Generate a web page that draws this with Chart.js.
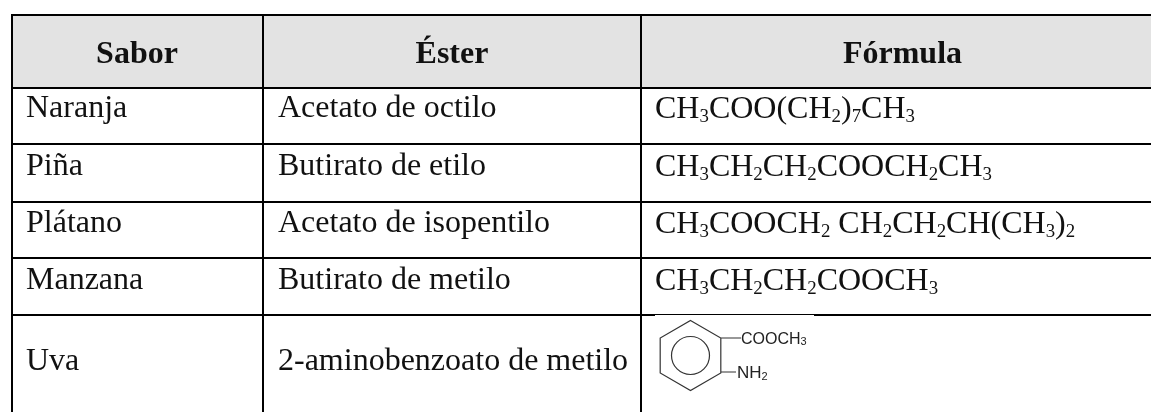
<!DOCTYPE html>
<html><head><meta charset="utf-8">
<style>html,body{margin:0;padding:0;background:#fff}canvas{display:block}</style>
<script src="https://cdn.jsdelivr.net/npm/chart.js@4"></script></head>
<body><div style="width:1151px;height:412px"><canvas id="c" width="1151" height="412"></canvas></div>
<script>
const headers = ['Sabor','Éster','Fórmula'];
const sabores = ['Naranja','Piña','Plátano','Manzana','Uva'];
const esteres = ['Acetato de octilo','Butirato de etilo','Acetato de isopentilo','Butirato de metilo','2-aminobenzoato de metilo'];
const formulas = ['CH_3COO(CH_2)_7CH_3','CH_3CH_2CH_2COOCH_2CH_3','CH_3COOCH_2 CH_2CH_2CH(CH_3)_2','CH_3CH_2CH_2COOCH_3',''];
const FF = '"Liberation Serif","Times New Roman",serif';
const colX = [12,263,641,1151];
const rowY = [15,88,144,202,258,315,412];
const textY = [63,117,175,232,289,370];
const headerX = [137,452,902.5];
const SIZE = 32;

function sub(ctx,s,x,y,size){
  s.split(/(_\d)/).forEach(p=>{
    if(/^_\d$/.test(p)){ctx.font=`${size*0.59}px ${FF}`;ctx.fillText(p[1],x,y+4);x+=ctx.measureText(p[1]).width;}
    else if(p){ctx.font=`${size}px ${FF}`;ctx.fillText(p,x,y);x+=ctx.measureText(p).width;}
  });
}
const tablePlugin={id:'table',afterDraw(ch){
  const c=ch.ctx;c.save();
  c.fillStyle='#fff';c.fillRect(0,0,1151,412);
  c.fillStyle='#e3e3e3';c.fillRect(colX[0],rowY[0],colX[3]-colX[0],rowY[1]-rowY[0]);
  c.strokeStyle='#000';c.lineWidth=2;
  c.beginPath();
  colX.slice(0,3).forEach(x=>{c.moveTo(x,rowY[0]-1);c.lineTo(x,412);});
  rowY.slice(0,6).forEach(y=>{c.moveTo(colX[0],y);c.lineTo(colX[3],y);});
  c.stroke();
  c.fillStyle='#111';c.textBaseline='alphabetic';
  c.textAlign='center';c.font=`bold ${SIZE}px ${FF}`;
  headers.forEach((h,i)=>c.fillText(h,headerX[i],textY[0]));
  c.textAlign='left';
  sabores.forEach((s,i)=>{
    c.font=`${SIZE}px ${FF}`;
    c.fillText(s,26,textY[i+1]);
    c.fillText(esteres[i],278,textY[i+1]);
    sub(c,formulas[i],655,textY[i+1]+1,SIZE);
  });
  // molecule
  c.fillStyle='#fff';c.fillRect(655,315,159,1);
  c.strokeStyle='#333';c.lineWidth=1.2;c.fillStyle='#222';
  const cx=690.5,cy=355.5,r=35;
  c.beginPath();
  for(let k=0;k<6;k++){const a=-Math.PI/2+k*Math.PI/3;const px=cx+r*Math.cos(a),py=cy+r*Math.sin(a);k?c.lineTo(px,py):c.moveTo(px,py);}
  c.closePath();
  c.moveTo(cx+19,cy);c.arc(cx,cy,19,0,Math.PI*2);
  c.moveTo(720.5,338);c.lineTo(741,338);
  c.moveTo(720.5,372);c.lineTo(736,372);
  c.stroke();
  c.font='16px "Liberation Sans",Arial,sans-serif';
  let x=741;c.fillText('COOCH',x,344);x+=c.measureText('COOCH').width;
  c.font='11px "Liberation Sans",Arial,sans-serif';c.fillText('3',x,345);
  c.font='17px "Liberation Sans",Arial,sans-serif';
  x=737;c.fillText('NH',x,378);x+=c.measureText('NH').width;
  c.font='11px "Liberation Sans",Arial,sans-serif';c.fillText('2',x,380);
  c.restore();
}};
new Chart(document.getElementById('c'),{
  type:'bar',
  data:{labels:sabores,datasets:[{data:[],label:'Éster'}]},
  options:{responsive:false,animation:false,events:[],
    plugins:{legend:{display:false},tooltip:{enabled:false}},
    scales:{x:{display:false},y:{display:false}}},
  plugins:[tablePlugin]
});
</script></body></html>
